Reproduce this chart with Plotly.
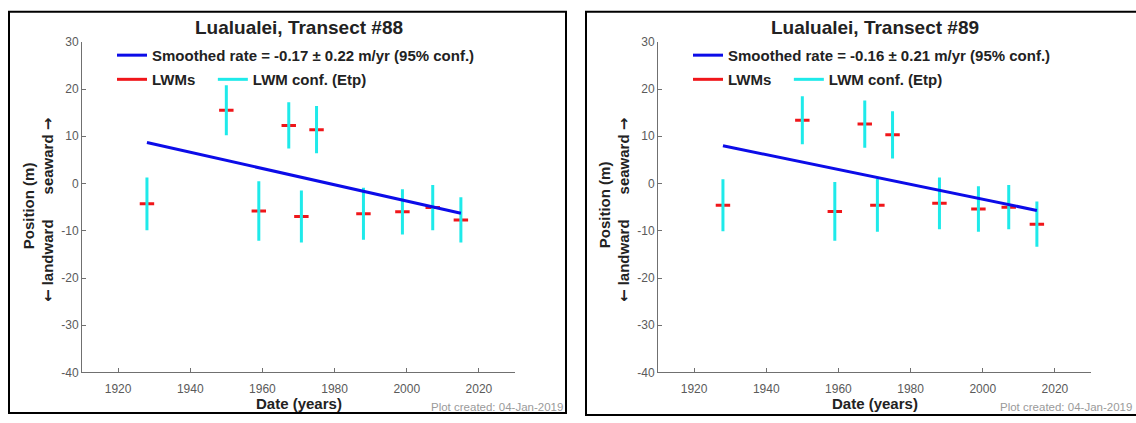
import plotly.graph_objects as go

W, H = 1136, 423

# ---------------- data ----------------
years = [1928, 1950, 1959, 1967.3, 1970.8, 1975, 1988, 1998.8, 2007.2, 2015]

pos88 = [-4.3, 15.5, -5.8, 12.3, -7.0, 11.4, -6.4, -6.0, -5.1, -7.7]
unc88 = [5.6, 5.3, 6.3, 4.9, 5.5, 5.0, 5.5, 4.8, 4.8, 4.8]
trend_years88 = [1928, 2015]
trend88 = [8.7, -6.3]
rate88, conf88 = -0.17, 0.22

pos89 = [-4.6, 13.4, -5.9, 12.6, -4.6, 10.3, -4.2, -5.4, -5.0, -8.6]
unc89 = [5.5, 5.1, 6.2, 5.0, 5.6, 5.0, 5.5, 4.8, 4.7, 4.8]
trend_years89 = [1928, 2015]
trend89 = [8.0, -5.7]
rate89, conf89 = -0.16, 0.21

titles = ["Lualualei, Transect #88", "Lualualei, Transect #89"]
xticks = [1920, 1940, 1960, 1980, 2000, 2020]
yticks = [-40, -30, -20, -10, 0, 10, 20, 30]
created = "Plot created: 04-Jan-2019"

# ---------------- style ----------------
FONT = "Liberation Sans, Arial, Helvetica, sans-serif"
BLUE = "#0c0ce8"
RED = "#f0161a"
CYAN = "#1eeaea"
AXC = "#707070"
TXT = "#222222"
DASH_HALF = 2.0  # half-width of LWM dash in years
NB = "\u00a0"


def px(x):
    return x / W


def py(y):
    return 1 - y / H


def segs_v(xs, ys, es):
    X, Y = [], []
    for x, y, e in zip(xs, ys, es):
        X += [x, x, None]
        Y += [y - e, y + e, None]
    return X, Y


def segs_h(xs, ys):
    X, Y = [], []
    for x, y in zip(xs, ys):
        X += [x - DASH_HALF, x + DASH_HALF, None]
        Y += [y, y, None]
    return X, Y


fig = go.Figure()

panels = [
    dict(pos=pos88, unc=unc88, ty=trend_years88, tv=trend88, rate=rate88, conf=conf88,
         xa="x", ya="y", off=0, lg="legend", lg2="legend2"),
    dict(pos=pos89, unc=unc89, ty=trend_years89, tv=trend89, rate=rate89, conf=conf89,
         xa="x2", ya="y2", off=576, lg="legend3", lg2="legend4"),
]

for p in panels:
    rx, ry = segs_h(years, p["pos"])
    fig.add_trace(go.Scatter(x=rx, y=ry, mode="lines", line=dict(color=RED, width=3),
                             name="LWMs" + NB * 3, xaxis=p["xa"], yaxis=p["ya"],
                             legend=p["lg2"], hoverinfo="skip"))
    cx, cy = segs_v(years, p["pos"], p["unc"])
    fig.add_trace(go.Scatter(x=cx, y=cy, mode="lines", line=dict(color=CYAN, width=3),
                             name="LWM conf. (Etp)", xaxis=p["xa"], yaxis=p["ya"],
                             legend=p["lg2"], hoverinfo="skip"))
    fig.add_trace(go.Scatter(x=p["ty"], y=p["tv"], mode="lines", line=dict(color=BLUE, width=3),
                             name=f"Smoothed rate = {p['rate']:.2f} ± {p['conf']:.2f} m/yr (95% conf.)",
                             xaxis=p["xa"], yaxis=p["ya"], legend=p["lg"]))

axis_common = dict(showline=True, linecolor=AXC, linewidth=1, ticks="inside", ticklen=4,
                   tickcolor=AXC, showgrid=False, zeroline=False,
                   tickfont=dict(family=FONT, size=12, color="#5a5a5a"), fixedrange=True)

legend_common = dict(xanchor="left", yanchor="top", bgcolor="rgba(0,0,0,0)", borderwidth=0,
                     font=dict(family=FONT, size=15, color=TXT, weight="bold"),
                     tracegroupgap=0, itemclick=False, itemdoubleclick=False)

layout = dict(width=W, height=H, margin=dict(l=0, r=0, t=0, b=0), autosize=False,
              paper_bgcolor="white", plot_bgcolor="white", showlegend=True)

ARROW = "<span style='font-family:DejaVu Sans'>{}</span>"
ylab2 = "<b>" + ARROW.format("\u2190") + " landward" + NB * 6 + "seaward " + ARROW.format("\u2192") + "</b>"

annotations = []
shapes = []
for i, p in enumerate(panels):
    o = p["off"]
    sfx = "" if i == 0 else "2"
    layout["xaxis" + sfx] = dict(domain=[px(82 + o), px(515 + o)], range=[1910, 2030],
                                 tickvals=xticks, ticktext=[str(v) for v in xticks],
                                 ticklabelstandoff=5,
                                 anchor="y" + sfx, **axis_common)
    layout["yaxis" + sfx] = dict(domain=[py(378), py(36)], range=[-40, 30],
                                 tickvals=yticks, ticktext=[str(v) for v in yticks],
                                 anchor="x" + sfx, **axis_common)
    layout[p["lg"]] = dict(x=px(112 + o), y=py(33), **legend_common)
    layout[p["lg2"]] = dict(x=px(112 + o), y=py(58), orientation="h", **legend_common)
    cx = px((82 + 515) / 2 + o)
    annotations += [
        dict(text="<b>" + titles[i] + "</b>", x=cx, y=py(21), xref="paper", yref="paper",
             showarrow=False, font=dict(family=FONT, size=19, color=TXT),
             xanchor="center", yanchor="middle"),
        dict(text="<b>Date (years)</b>", x=cx, y=py(410), xref="paper", yref="paper",
             showarrow=False, font=dict(family=FONT, size=15, color=TXT),
             xanchor="center", yanchor="middle"),
        dict(text="<b>Position (m)</b>", x=px(28 + o), y=py(205), xref="paper", yref="paper",
             showarrow=False, textangle=-90, font=dict(family=FONT, size=15, color=TXT),
             xanchor="center", yanchor="middle"),
        dict(text=ylab2, x=px(48 + o),
             y=py(210), xref="paper", yref="paper", showarrow=False, textangle=-90,
             font=dict(family=FONT, size=15, color=TXT), xanchor="center", yanchor="middle"),
        dict(text=created, x=px(min(565 + o, 1134)), y=py(414), xref="paper", yref="paper",
             showarrow=False, font=dict(family=FONT, size=11.5, color="#9a9a9a"),
             xanchor="right", yanchor="middle"),
    ]

shapes += [
    dict(type="rect", xref="paper", yref="paper", x0=px(9), x1=px(566), y0=py(420), y1=py(5),
         line=dict(color="black", width=2), fillcolor="rgba(0,0,0,0)", layer="above"),
    dict(type="rect", xref="paper", yref="paper", x0=px(586), x1=px(1142), y0=py(422), y1=py(5),
         line=dict(color="black", width=2), fillcolor="rgba(0,0,0,0)", layer="above"),
]

layout["annotations"] = annotations
layout["shapes"] = shapes
fig.update_layout(**layout)

fig.write_html("out.html", config={"displayModeBar": False},
               post_script="document.body.style.margin='0';document.body.style.overflow='hidden';")
